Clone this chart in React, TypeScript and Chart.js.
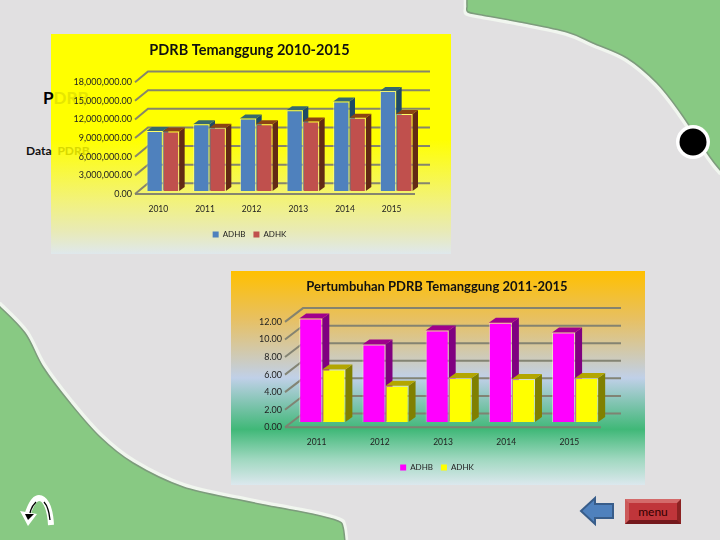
import React, { useEffect, useRef } from "react";
import { Chart, registerables } from "chart.js";

Chart.register(...registerables);

const years1 = ["2010", "2011", "2012", "2013", "2014", "2015"];
const pdrbAdhb = [9680000, 10750000, 11670000, 13000000, 14400000, 16100000];
const pdrbAdhk = [9570000, 10200000, 10750000, 11200000, 11800000, 12400000];

const years2 = ["2011", "2012", "2013", "2014", "2015"];
const growthAdhb = [11.78, 8.83, 10.42, 11.29, 10.19];
const growthAdhk = [5.98, 4.13, 5.0, 4.89, 5.0];

const FONT = "Lato";

type View = {
  backDx: number; backDy: number; backExtra: number;
  shiftX: number; shiftY: number; depthX: number; depthY: number;
  sides: string[]; tops: string[];
};

function make3D(v: View) {
  return {
    id: "threeD",
    beforeDatasetsDraw(chart: any) {
      const { ctx, chartArea: a, scales } = chart;
      const y = scales.y;
      ctx.save();
      ctx.strokeStyle = "rgba(128,128,112,0.95)";
      ctx.lineWidth = 2;
      y.ticks.forEach((t: any) => {
        const py = y.getPixelForValue(t.value);
        ctx.beginPath();
        ctx.moveTo(a.left, py);
        ctx.lineTo(a.left + v.backDx, py - v.backDy);
        ctx.lineTo(a.right + v.backExtra, py - v.backDy);
        ctx.stroke();
      });
      ctx.beginPath();
      ctx.moveTo(a.left, a.bottom);
      ctx.lineTo(a.right, a.bottom);
      ctx.stroke();
      const count = chart.data.labels.length;
      for (let i = 0; i < count; i++) {
        chart.data.datasets.forEach((_: any, d: number) => {
          const el = chart.getDatasetMeta(d).data[i];
          const p = el.getProps(["x", "y", "base", "width"], true);
          const l = p.x - p.width / 2 + v.shiftX;
          const r = p.x + p.width / 2 + v.shiftX;
          const t = p.y + v.shiftY;
          const b = p.base + v.shiftY;
          ctx.fillStyle = v.sides[d];
          ctx.beginPath();
          ctx.moveTo(r, t);
          ctx.lineTo(r + v.depthX, t + v.depthY);
          ctx.lineTo(r + v.depthX, b + v.depthY);
          ctx.lineTo(r, b);
          ctx.closePath();
          ctx.fill();
          ctx.fillStyle = v.tops[d];
          ctx.beginPath();
          ctx.moveTo(l, t);
          ctx.lineTo(l + v.depthX, t + v.depthY);
          ctx.lineTo(r + v.depthX, t + v.depthY);
          ctx.lineTo(r, t);
          ctx.closePath();
          ctx.fill();
        });
      }
      ctx.restore();
      ctx.save();
      ctx.translate(v.shiftX, v.shiftY);
    },
    afterDatasetsDraw(chart: any) {
      chart.ctx.restore();
    },
  };
}

function legendLabels(chart: any) {
  return Chart.defaults.plugins.legend.labels.generateLabels(chart).map((it: any) => ({ ...it, lineWidth: 0 }));
}

function buildConfig(o: any) {
  return {
    type: "bar",
    data: {
      labels: o.labels,
      datasets: o.series.map((s: any) => ({
        label: s.label,
        data: s.data,
        backgroundColor: s.color,
        borderColor: o.edge,
        borderWidth: 1,
        categoryPercentage: o.catPct,
        barPercentage: 1,
        clip: false,
      })),
    },
    plugins: [make3D(o.view)],
    options: {
      responsive: false,
      animation: false,
      layout: { padding: o.padding },
      plugins: {
        tooltip: { enabled: false },
        title: {
          display: true,
          text: o.title,
          color: "#111",
          font: { family: FONT, size: o.titleSize, weight: "bold", lineHeight: o.titleLine },
          padding: o.titlePad,
        },
        legend: {
          position: "bottom",
          labels: {
            boxWidth: 6,
            boxHeight: 6,
            padding: 8,
            color: "#222",
            font: { family: FONT, size: 8 },
            generateLabels: legendLabels,
          },
        },
      },
      scales: {
        x: {
          grid: { display: false, drawTicks: false },
          border: { display: false },
          ticks: { color: "#222", font: { family: FONT, size: 8.5 }, padding: 10, maxRotation: 0 },
          afterFit: (s: any) => { s.height = o.xHeight; },
        },
        y: {
          min: 0,
          max: o.max,
          grid: { display: false, drawTicks: false },
          border: { display: false },
          ticks: { stepSize: o.step, color: "#222", font: { family: FONT, size: 9 }, padding: 3, callback: o.fmt },
          afterFit: (s: any) => {
            s.width = o.yWidth;
            s._computeLabelArea = () => undefined;
          },
        },
      },
    },
  } as any;
}

const fmt2 = (v: number) =>
  Number(v).toLocaleString("en-US", { minimumFractionDigits: 2, maximumFractionDigits: 2 });

const chartOne = {
  labels: years1,
  title: "PDRB Temanggung 2010-2015",
  titleSize: 14.5,
  titleLine: 1.2,
  titlePad: { top: 7.8, bottom: 23 },
  series: [
    { label: "ADHB", data: pdrbAdhb, color: "#4f81bd" },
    { label: "ADHK", data: pdrbAdhk, color: "#c0504d" },
  ],
  edge: "rgba(255,255,190,0.55)",
  catPct: 0.7,
  padding: { left: 33, right: 36, top: 0, bottom: 5.5 },
  xHeight: 28.5,
  yWidth: 51,
  max: 18000000,
  step: 3000000,
  fmt: fmt2,
  view: {
    backDx: 13, backDy: 10.7, backExtra: 15,
    shiftX: 4.5, shiftY: -3, depthX: 5.5, depthY: -4,
    sides: ["#1f4a66", "#632a14"], tops: ["#37696e", "#8c4414"],
  },
};

const chartTwo = {
  labels: years2,
  title: "Pertumbuhan PDRB Temanggung 2011-2015",
  titleSize: 13,
  titleLine: 1.3,
  titlePad: { top: 7.3, bottom: 26.7 },
  series: [
    { label: "ADHB", data: growthAdhb, color: "#ff00ff" },
    { label: "ADHK", data: growthAdhk, color: "#ffff00" },
  ],
  edge: "rgba(255,255,220,0.5)",
  catPct: 0.73,
  padding: { left: 42, right: 44, top: 0, bottom: 3.5 },
  xHeight: 28.2,
  yWidth: 12,
  max: 12,
  step: 2,
  fmt: fmt2,
  view: {
    backDx: 18, backDy: 13.8, backExtra: 20,
    shiftX: 5.7, shiftY: -5.3, depthX: 7, depthY: -5,
    sides: ["#800080", "#808000"], tops: ["#a0008c", "#b3a600"],
  },
};

function BarChart({ cfg, style, w, h }: any) {
  const ref = useRef<HTMLCanvasElement | null>(null);
  useEffect(() => {
    const c = new Chart(ref.current as any, buildConfig(cfg));
    return () => c.destroy();
  }, [cfg]);
  return <canvas ref={ref} width={w} height={h} style={{ position: "absolute", display: "block", ...style }} />;
}

function smooth(pts: number[][]) {
  let d = `M${pts[0][0]},${pts[0][1]}`;
  for (let i = 0; i < pts.length - 1; i++) {
    const p0 = pts[Math.max(i - 1, 0)];
    const p1 = pts[i];
    const p2 = pts[i + 1];
    const p3 = pts[Math.min(i + 2, pts.length - 1)];
    const c1 = [p1[0] + (p2[0] - p0[0]) / 6, p1[1] + (p2[1] - p0[1]) / 6];
    const c2 = [p2[0] - (p3[0] - p1[0]) / 6, p2[1] - (p3[1] - p1[1]) / 6];
    d += ` C${c1[0]},${c1[1]} ${c2[0]},${c2[1]} ${p2[0]},${p2[1]}`;
  }
  return d;
}

const GREEN = "#88c983";
const topEdge = smooth([[467, -2], [467, 6], [468, 12], [482, 15], [520, 22], [567, 32], [593, 43], [627, 58], [657, 83], [680, 112], [710, 157], [722, 172]]);
const bottomEdge = smooth([[-2, 305], [25, 333], [43, 367], [70, 403], [100, 437], [133, 463], [183, 487], [240, 500], [275, 507], [312, 514], [338, 521], [343, 527], [345, 542]]);

export default function App() {
  return (
    <div style={{ position: "fixed", left: 0, top: 0, width: 720, height: 540, overflow: "hidden", background: "#e1e0e1" }}>
      <svg width={720} height={540} style={{ position: "absolute", left: 0, top: 0 }}>
        <path d={topEdge} transform="translate(-1.5,2)" fill="none" stroke="#f1f6ef" strokeWidth={3.5} />
        <path d={bottomEdge} transform="translate(1.5,-2)" fill="none" stroke="#f1f6ef" strokeWidth={3.5} />
        <path d={topEdge + " L722,-2 Z"} fill={GREEN} />
        <path d={bottomEdge + " L-2,542 Z"} fill={GREEN} />
        <path d={topEdge} fill="none" stroke="#7d9c7c" strokeWidth={1.5} />
        <path d={bottomEdge} fill="none" stroke="#7d9c7c" strokeWidth={1.5} />
        <circle cx={693} cy={142} r={17} fill="#fff" />
        <circle cx={693} cy={142} r={13.5} fill="#000" />
        <path d="M51,525 C50,505 44,498 39,498 C35,498 31,504 28,513" fill="none" stroke="#fff" strokeWidth={6} />
        <path d="M20,511 L37,514 L28,526 Z" fill="#fff" />
        <path d="M50,520 C49,510 47,505 44,502" fill="none" stroke="#000" strokeWidth={1.3} />
        <path d="M36,502 C33,505 31,508 30,513" fill="none" stroke="#000" strokeWidth={1.3} />
        <path d="M25,514 L34,514 L28,520 Z" fill="#000" />
        <path d="M581,511 L595,498 L595,504 L613,504 L613,518 L595,518 L595,524 Z" fill="#4f81bd" stroke="#385d8a" strokeWidth={2} />
      </svg>

      <div style={{ position: "absolute", left: 51, top: 34, width: 400, height: 220, background: "linear-gradient(180deg,#ffff00 0%,#ffff00 48%,#f2f27c 76%,#e8eab8 90%,#dfe8ec 100%)" }} />
      <div style={{ position: "absolute", left: 43, top: 87, font: "bold 17px Lato", lineHeight: "22px", color: "#000", whiteSpace: "pre" }}>
        P<span style={{ color: "#e6e600" }}>DRB</span>
      </div>
      <div style={{ position: "absolute", left: 26, top: 142, font: "bold 12px Lato", lineHeight: "17px", color: "#111", whiteSpace: "pre" }}>
        {"Data  "}<span style={{ color: "#d8d800" }}>PDRB</span>
      </div>
      <BarChart cfg={chartOne} w={400} h={220} style={{ left: 51, top: 34 }} />

      <div style={{ position: "absolute", left: 231, top: 271, width: 414, height: 214, background: "linear-gradient(180deg,#ffc000 0%,#e8c060 22%,#c0d0e8 50%,#40b878 74%,#a0d8c0 88%,#dce8ee 100%)" }} />
      <BarChart cfg={chartTwo} w={414} h={214} style={{ left: 231, top: 271 }} />

      <div style={{
        position: "absolute", left: 625, top: 499, width: 48, height: 17, boxSizing: "content-box",
        background: "#c0353a", borderStyle: "solid", borderWidth: 4,
        borderColor: "#d46a6a #8c2222 #74181c #cc5a5a",
        font: "12px Lato", lineHeight: "17px", color: "#300", textAlign: "center",
      }}>menu</div>
    </div>
  );
}
